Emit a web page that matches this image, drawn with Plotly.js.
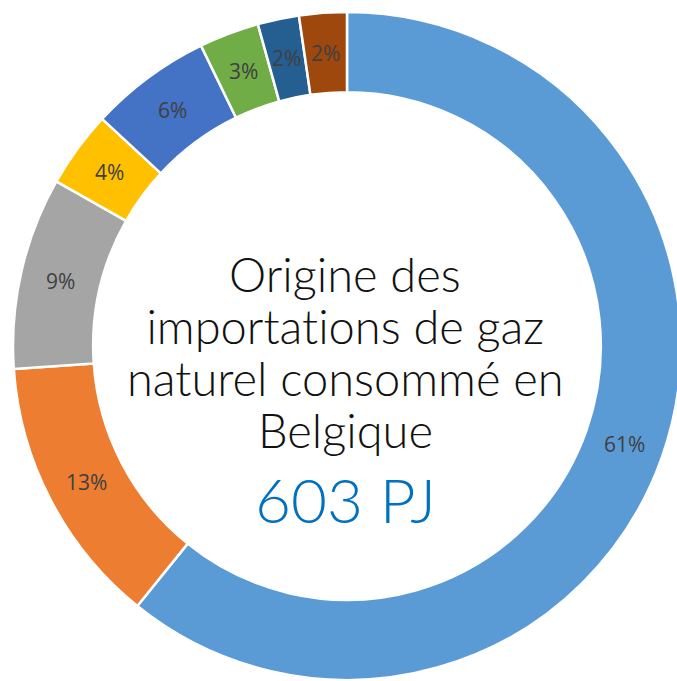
<!DOCTYPE html>
<html>
<head>
<meta charset="utf-8">
<script src="https://cdn.plot.ly/plotly-3.0.1.min.js"></script>
<style>
html,body{margin:0;padding:0;overflow:hidden;background:#fff;}
#chart{width:690px;height:681px;}
#chart text{font-variant-ligatures:none !important;font-feature-settings:"liga" 0, "clig" 0 !important;}
</style>
</head>
<body>
<div id="chart"></div>
<script>
// Slice categories (origins, not named in the picture) and shares (% of 603 PJ)
const categories = ["Origine 1", "Origine 2", "Origine 3", "Origine 4", "Origine 5", "Origine 6", "Origine 7", "Origine 8"];
const shares = [60.8, 13.1, 9.3, 3.7, 5.9, 2.9, 2.0, 2.3];
const sliceColors = ["#5B9BD5", "#ED7D31", "#A5A5A5", "#FFC000", "#4472C4", "#70AD47", "#255E91", "#9E480E"];
const centerTitle = ["Origine des", "importations de gaz", "naturel consommé en", "Belgique"];
const totalLabel = "603 PJ";

const W = 690, H = 681;
const cx = 347, cy = 346, R = 334;
const HOLE = 0.76;

const trace = {
  type: "pie",
  labels: categories,
  values: shares,
  sort: false,
  direction: "clockwise",
  rotation: 0,
  hole: HOLE,
  marker: {colors: sliceColors, line: {color: "#ffffff", width: 2.5}},
  textinfo: "none",
  textposition: "none",
  hoverinfo: "label+percent",
  showlegend: false,
  domain: {
    x: [(cx - R) / W, (cx + R) / W],
    y: [(H - cy - R) / H, (H - cy + R) / H]
  }
};

// percentage labels placed at the middle of each ring segment, derived from the shares
const total = shares.reduce((a, b) => a + b, 0);
const rMid = R * (1 + HOLE) / 2;
const labelAnns = [];
let cum = 0;
shares.forEach((v) => {
  const mid = (cum + v / 2) / total * 2 * Math.PI;
  cum += v;
  const px = cx + rMid * Math.sin(mid);
  const py = cy - rMid * Math.cos(mid);
  labelAnns.push({
    text: Math.round(v / total * 100) + "%",
    x: px / W, y: (H - py) / H, xref: "paper", yref: "paper",
    xanchor: "center", yanchor: "middle", showarrow: false,
    font: {family: "Open Sans, sans-serif", size: 21, color: "#404040"}
  });
});

const titleCenters = [274, 326, 378, 430];
const titleAnns = centerTitle.map((line, i) => ({
  text: line,
  x: 345 / W, y: (H - titleCenters[i]) / H, xref: "paper", yref: "paper",
  xanchor: "center", yanchor: "middle", showarrow: false,
  font: {family: "Lato, sans-serif", size: 47, color: "#111111", weight: 300}
}));

const layout = {
  width: W,
  height: H,
  margin: {l: 0, r: 0, t: 0, b: 0},
  paper_bgcolor: "#ffffff",
  showlegend: false,
  annotations: labelAnns.concat(titleAnns, [
    {
      text: totalLabel,
      x: 345 / W, y: (H - 499) / H, xref: "paper", yref: "paper",
      xanchor: "center", yanchor: "middle", showarrow: false,
      font: {family: "Lato, sans-serif", size: 62, color: "#0070C0", weight: 300}
    }
  ])
};

Plotly.newPlot("chart", [trace], layout, {displayModeBar: false, staticPlot: true});
</script>
</body>
</html>
